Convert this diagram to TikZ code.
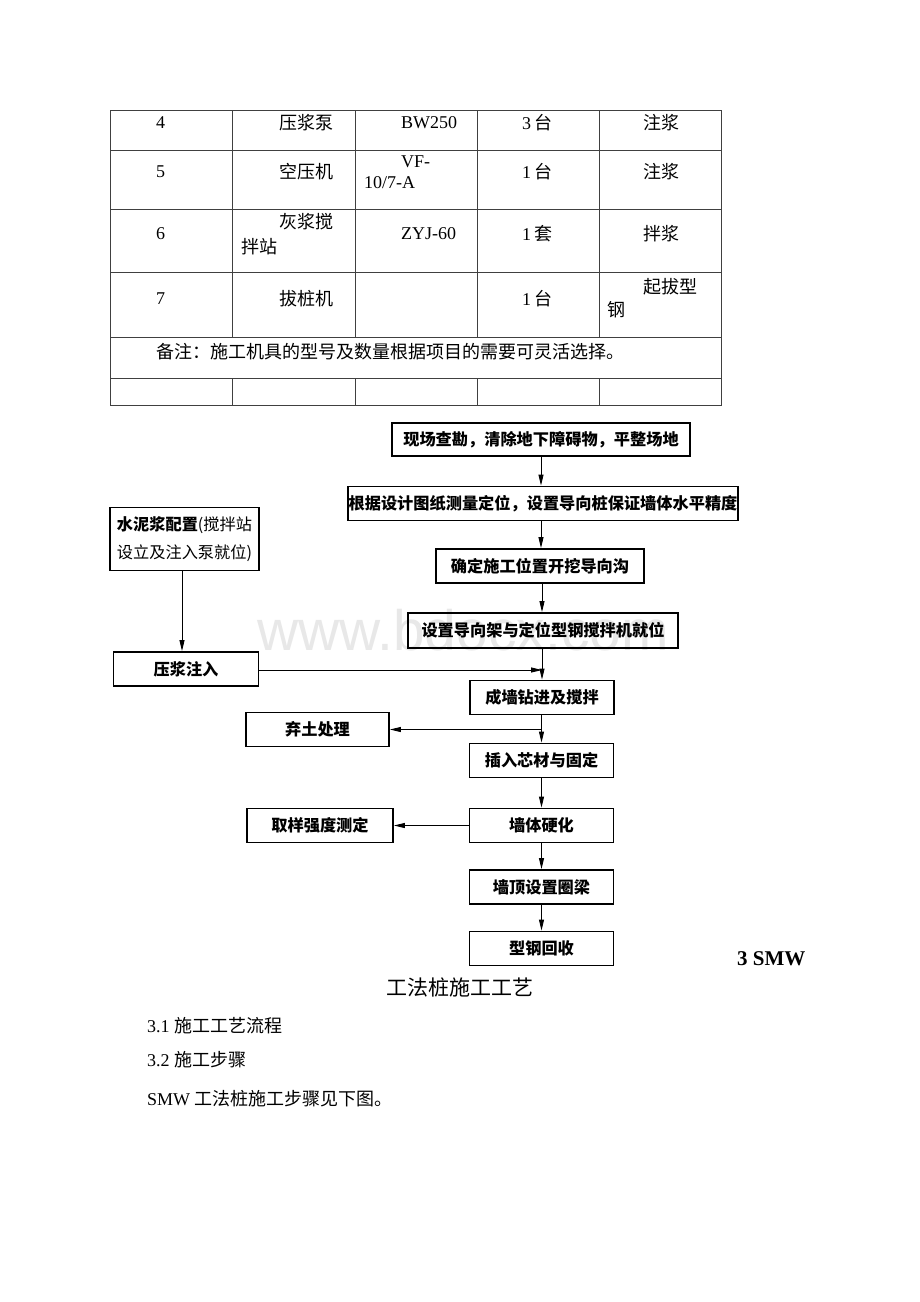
\documentclass[tikz,border=0pt]{standalone}
\usepackage{fontspec}
\setmainfont{Liberation Serif}
\newfontfamily\cjk{Noto Sans CJK SC}
\newfontfamily\wmfont{Liberation Sans}
\usetikzlibrary{arrows.meta}
\begin{document}
\begin{tikzpicture}[x=1pt,y=-1pt,
  tline/.style={line width=0.8pt, draw=black!75},
  cell/.style={anchor=west, inner sep=0pt, font=\fontsize{18}{20}\selectfont},
  box/.style={draw, line width=1.8pt, inner sep=0pt, align=center, font=\fontsize{16.2}{28}\selectfont\cjk\bfseries},
  arr/.style={line width=0.9pt, -{Triangle[length=11pt,width=5pt]}},
  ln/.style={line width=0.9pt},
  body/.style={anchor=west, inner sep=0pt, font=\fontsize{18}{20}\selectfont}]
\useasboundingbox[fill=white] (0,0) rectangle (920,1302);
% watermark
\node[text=black!9, font=\fontsize{57}{60}\selectfont\wmfont, inner sep=0pt] (wm) at (463,630) {www.bdocx.com};
% ---------- table ----------
\draw[tline] (110,110) rectangle (721,405);
\foreach \yy in {150,209,272,337,378} \draw[tline] (110,\yy) -- (721,\yy);
\foreach \xx in {232,355,477,599} {
  \draw[tline] (\xx,110) -- (\xx,337);
  \draw[tline] (\xx,378) -- (\xx,405);
}
% row 4
\node[cell] (r4a) at (156,123) {4};
\node[cell] (r4b) at (279,123) {\cjk 压浆泵};
\node[cell] (r4c) at (401,123) {BW250};
\node[cell] (r4d) at (522,123) {3\,{\cjk 台}};
\node[cell] (r4e) at (643,123) {\cjk 注浆};
% row 5
\node[cell] (r5a) at (156,172) {5};
\node[cell] (r5b) at (279,172) {\cjk 空压机};
\node[cell] (r5c) at (401,162) {VF-};
\node[cell] (r5c2) at (364,183) {10/7-A};
\node[cell] (r5d) at (522,172) {1\,{\cjk 台}};
\node[cell] (r5e) at (643,172) {\cjk 注浆};
% row 6
\node[cell] (r6a) at (156,234) {6};
\node[cell] (r6b) at (279,222) {\cjk 灰浆搅};
\node[cell] (r6b2) at (241,247) {\cjk 拌站};
\node[cell] (r6c) at (401,234) {ZYJ-60};
\node[cell] (r6d) at (522,234) {1\,{\cjk 套}};
\node[cell] (r6e) at (643,234) {\cjk 拌浆};
% row 7
\node[cell] (r7a) at (156,299) {7};
\node[cell] (r7b) at (279,299) {\cjk 拔桩机};
\node[cell] (r7d) at (522,299) {1\,{\cjk 台}};
\node[cell] (r7e) at (643,287) {\cjk 起拔型};
\node[cell] (r7e2) at (607,310) {\cjk 钢};
% note row
\node[cell] (note) at (156,352) {\cjk 备注：施工机具的型号及数量根据项目的需要可灵活选择。};
% ---------- flowchart ----------
\node[box, minimum width=298pt, minimum height=33pt] (b1) at (541,439.5) {现场查勘，清除地下障碍物，平整场地};
\node[box, minimum width=390pt, minimum height=34pt] (b2) at (543,503.5) {根据设计图纸测量定位，设置导向桩保证墙体水平精度};
\node[box, minimum width=208pt, minimum height=34pt] (b3) at (540,566) {确定施工位置开挖导向沟};
\node[box, minimum width=270pt, minimum height=35pt] (b4) at (543,630.5) {设置导向架与定位型钢搅拌机就位};
\node[box, minimum width=144pt, minimum height=34pt] (b5) at (542,697.5) {成墙钻进及搅拌};
\node[box, minimum width=144pt, minimum height=34pt] (b6) at (541.5,760.5) {插入芯材与固定};
\node[box, minimum width=144pt, minimum height=34pt] (b7) at (541.5,825.5) {墙体硬化};
\node[box, minimum width=144pt, minimum height=34pt] (b8) at (541.5,887) {墙顶设置圈梁};
\node[box, minimum width=144pt, minimum height=34pt] (b9) at (541.5,948.5) {型钢回收};
\node[box, minimum width=149pt, minimum height=63pt] (bA) at (184.5,539) {水泥浆配置{\mdseries(搅拌站}\\{\mdseries 设立及注入泵就位)}};
\node[box, minimum width=145pt, minimum height=34pt] (bB) at (186,669) {压浆注入};
\node[box, minimum width=143pt, minimum height=34pt] (bC) at (317.5,729.5) {弃土处理};
\node[box, minimum width=146pt, minimum height=34pt] (bD) at (320,825.5) {取样强度测定};
% connectors
\coordinate (j1) at (542,670);
\coordinate (j2) at (541.5,729.5);
\draw[arr] (b1.south) -- (b2.north -| b1.south);
\draw[arr] (b2.south -| b1.south) -- (b3.north -| b1.south);
\draw[arr] (b3.south -| j1) -- (b4.north -| j1);
\draw[ln] (b4.south -| j1) -- (j1);
\draw[arr] (j1) -- (b5.north -| j1);
\draw[arr] (bB.east |- j1) -- (j1);
\draw[arr] (bA.south -| 182,0) -- (bB.north -| 182,0);
\draw[arr] (b5.south -| j2) -- (b6.north -| j2);
\draw[arr] (j2) -- (bC.east);
\draw[arr] (b6.south) -- (b7.north);
\draw[arr] (b7.west) -- (bD.east);
\draw[arr] (b7.south) -- (b8.north);
\draw[arr] (b8.south) -- (b9.north);
% ---------- text below ----------
\node[anchor=west, inner sep=0pt, font=\fontsize{21}{24}\selectfont\bfseries] (h1) at (737,959) {3 SMW};
\node[inner sep=0pt, font=\fontsize{21}{24}\selectfont\cjk] (h2) at (460,987) {工法桩施工工艺};
\node[body] (t1) at (147,1026) {3.1 {\cjk 施工工艺流程}};
\node[body] (t2) at (147,1060) {3.2 {\cjk 施工步骤}};
\node[body] (t3) at (147,1099) {SMW {\cjk 工法桩施工步骤见下图。}};
\end{tikzpicture}
\end{document}
